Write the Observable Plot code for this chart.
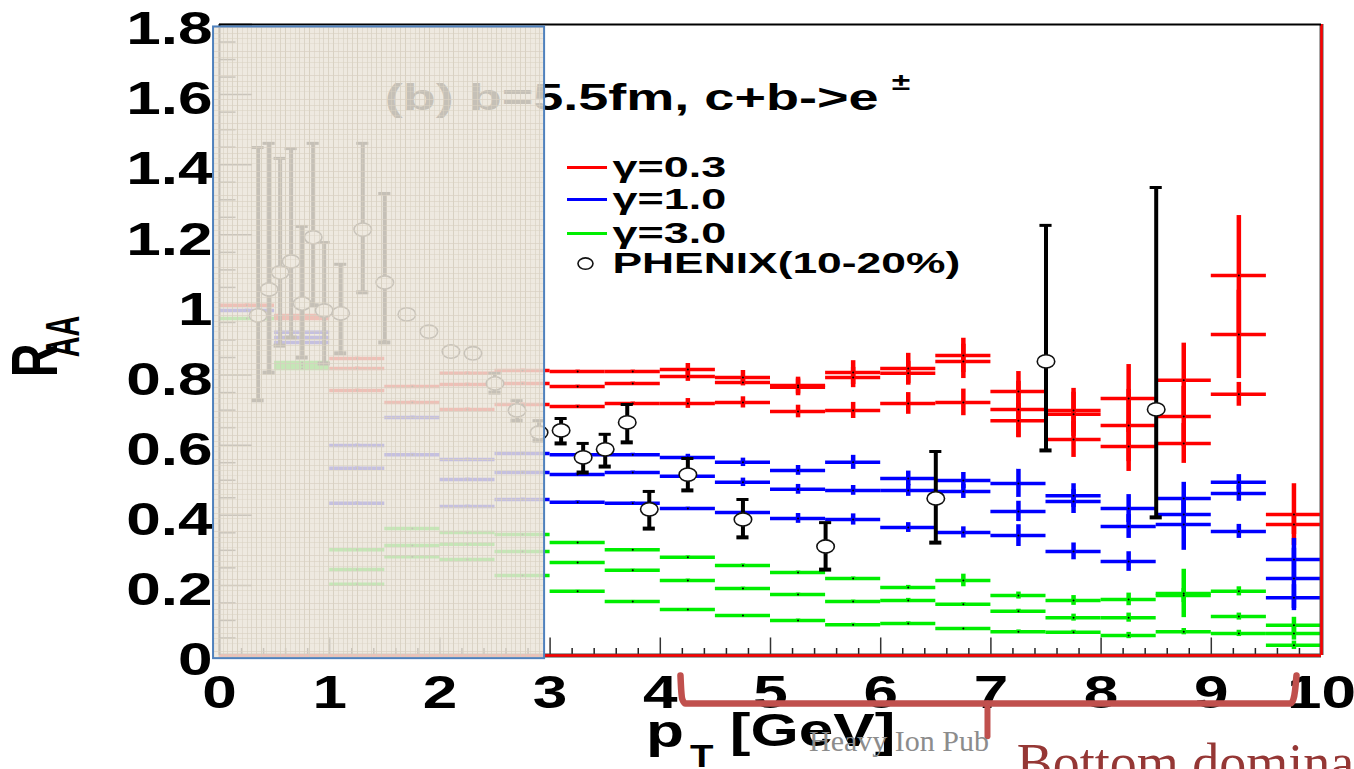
<!DOCTYPE html>
<html>
<head>
<meta charset="utf-8">
<script src="https://cdn.jsdelivr.net/npm/d3@7"></script>
<script src="https://cdn.jsdelivr.net/npm/@observablehq/plot@0.6"></script>
<style>
html,body{margin:0;padding:0;background:#fff;overflow:hidden}
svg{display:block}
</style>
</head>
<body>
<div id="chart"></div>
<script>
const binStart = [0,.5,1,1.5,2,2.5,3,3.5,4,4.5,5,5.5,6,6.5,7,7.5,8,8.5,9,9.5];

const redA = [.999,.970,.847,.767,.805,.813,.810,.810,.816,.793,.770,.807,.819,.856,.753,.699,.733,.785,1.084,.402];
const redB = [null,.967,.819,.722,.773,.776,.767,.776,.796,.779,.765,.793,.805,.839,.702,.688,.656,.682,.916,.374];
const redC = [null,.961,.756,null,.702,.716,.710,.719,.719,.722,.696,.699,.719,.722,.670,.616,.596,.605,.745,null];
const redAErr = [.004,.004,.004,.004,.004,.004,.004,.004,.017,.020,.024,.034,.043,.049,.057,.063,.097,.106,.171,.088];
const redBErr = [0,.004,.004,.004,.004,.004,.004,.004,.014,.010,.024,.029,.034,.049,.080,.063,.103,.086,.126,.029];
const redCErr = [0,.004,.004,0,.004,.004,.004,.004,.014,.016,.018,.023,.031,.038,.049,.051,.071,.057,.034,0];

const blueA = [.984,.922,.599,.679,.559,.576,.573,.573,.565,.551,.528,.551,.505,.499,.491,.456,.419,.448,.494,.274];
const blueB = [null,.907,.534,.573,.502,.522,.516,.522,.511,.494,.474,.471,.471,.468,.411,.439,.368,.402,.462,.220];
const blueC = [null,.893,.434,null,.425,.445,.437,.434,.419,.408,.391,.388,.365,.351,.342,.297,.268,.374,.354,.165];
const blueAErr = [.004,.004,.004,.004,.004,.004,.004,.004,.009,.012,.014,.020,.021,.023,.040,.034,.040,.046,.022,.060];
const blueBErr = [0,.004,.004,.004,.004,.004,.004,.004,.009,.012,.014,.014,.017,.020,.029,.034,.034,.040,.022,.086];
const blueCErr = [0,.004,.004,0,.004,.004,.004,.004,.004,.004,.014,.016,.014,.016,.031,.024,.028,.074,.020,.037];

const greenA = [.961,.836,.302,.362,.351,.345,.322,.302,.280,.257,.237,.220,.194,.214,.171,.157,.160,.177,.183,.086];
const greenB = [null,.827,.245,.314,.317,.297,.265,.243,.214,.191,.174,.154,.157,.146,.126,.108,.108,.171,.111,.063];
const greenC = [null,.819,.203,.282,.274,.228,.183,.154,.131,.114,.100,.088,.091,.077,.068,.066,.057,.068,.063,.029];
const greenAErr = [.003,.003,.003,.003,.003,.003,.003,.003,.004,.004,.004,.004,.006,.018,.010,.014,.018,.069,.013,.023];
const greenBErr = [0,.003,.003,.003,.003,.003,.003,.003,.004,.004,.004,.004,.006,.004,.006,.010,.013,.020,.010,.019];
const greenCErr = [0,.003,.003,.003,.003,.003,.003,.003,.003,.003,.004,.004,.005,.003,.005,.006,.009,.009,.009,.012];

const phenixX = [.35,.45,.55,.65,.75,.85,.95,1.1,1.3,1.5,1.7,1.9,2.1,2.3,2.5,2.7,2.9,3.1,3.3,3.5,3.7,3.9,4.25,4.75,5.5,6.5,7.5,8.5];
const phenixY = [.970,1.044,1.093,1.124,1.004,1.193,.984,.976,1.215,1.064,.973,.924,.867,.862,.776,.699,.636,.642,.565,.588,.665,.417,.516,.388,.311,.448,.839,.702];
const phenixHi = [1.449,1.461,1.418,1.446,1.224,1.461,1.178,1.116,1.461,1.318,.973,.924,.867,.862,.805,.727,.670,.676,.605,.631,.716,.468,.562,.445,.379,.582,1.227,1.335];
const phenixLo = [.728,.807,.884,.907,.850,.999,.833,.862,1.036,.893,.973,.924,.867,.862,.750,.670,.613,.605,.522,.539,.608,.362,.471,.337,.245,.322,.585,.394];

const xTicks = [0,1,2,3,4,5,6,7,8,9,10];
const yTicks = [0,.2,.4,.6,.8,1,1.2,1.4,1.6,1.8];
const xMinor = d3.range(0,50).map(i => i/5).filter(v => !Number.isInteger(v));
const yMinor = d3.range(0,36).map(i => i/20).filter(v => Math.abs(v*5-Math.round(v*5)) > 1e-6);

const legendNames = ["γ=0.3","γ=1.0","γ=3.0"];
const legendColors = ["#ff0000","#0000ff","#00ee00"];
const legendY = [1.392,1.301,1.204];

const braceX = [4.183,4.19,4.20,4.229,6.969,9.719,9.745,9.76,9.773];
const braceY = [-.057,-.10,-.125,-.137,-.137,-.137,-.125,-.10,-.057];
const spikeX = [6.969,6.969];
const spikeY = [-.137,-.23];

function seriesRows(vals, errs) {
  return vals.flatMap((a, i) => a.map((v, j) => v == null ? null : {x: binStart[j], v, e: errs[i][j]})).filter(Boolean);
}
function seriesMarks(rows, color) {
  return [
    Plot.ruleX(rows, {x: d => d.x + .25, y1: d => d.v - d.e, y2: d => d.v + d.e, stroke: color, strokeWidth: 4.5}),
    Plot.ruleY(rows, {y: "v", x1: "x", x2: d => d.x + .5, stroke: color, strokeWidth: 3.5}),
    Plot.dot(rows, {x: d => d.x + .25, y: "v", r: 1, fill: "#000"})
  ];
}
const red = seriesRows([redA,redB,redC],[redAErr,redBErr,redCErr]);
const blue = seriesRows([blueA,blueB,blueC],[blueAErr,blueBErr,blueCErr]);
const green = seriesRows([greenA,greenB,greenC],[greenAErr,greenBErr,greenCErr]);
const phenix = phenixX.map((x,i) => ({x, y: phenixY[i], hi: phenixHi[i], lo: phenixLo[i]}));
const barred = phenix.filter(d => d.hi > d.lo);

const oval = {draw(ctx, size) {
  const r = Math.sqrt(size/Math.PI), rx = r*1.25, ry = r*.95, k = .5523;
  ctx.moveTo(-rx,0);
  ctx.bezierCurveTo(-rx,-k*ry,-k*rx,-ry,0,-ry);
  ctx.bezierCurveTo(k*rx,-ry,rx,-k*ry,rx,0);
  ctx.bezierCurveTo(rx,k*ry,k*rx,ry,0,ry);
  ctx.bezierCurveTo(-k*rx,ry,-rx,k*ry,-rx,0);
  ctx.closePath();
}};

const SANS = "Liberation Sans";
const SERIF = "Liberation Serif";
const chart = Plot.plot({
  width: 1354, height: 769,
  marginLeft: 219, marginRight: 33, marginTop: 24, marginBottom: 114,
  x: {domain: [0,10]},
  y: {domain: [0,1.8]},
  style: {background: "#fff", overflow: "hidden"},
  marks: [
    Plot.axisX({ticks: xTicks, tickSize: 0, tickPadding: 20, label: null, fontSize: 46, fontWeight: "bold", fontFamily: SANS, fill: "#000", tickFormat: d => String(d)}),
    Plot.axisY({ticks: yTicks, tickSize: 0, tickPadding: 7, dy: 5, label: null, fontSize: 46, fontWeight: "bold", fontFamily: SANS, fill: "#000", tickFormat: d => String(d)}),
    Plot.ruleX(xMinor, {x: d => d, y1: 0, y2: .02, stroke: "#222", strokeWidth: 1.5}),
    Plot.ruleX(xTicks, {x: d => d, y1: 0, y2: .05, stroke: "#333", strokeWidth: 1.5}),
    Plot.ruleY(yMinor, {y: d => d, x1: 0, x2: .15, stroke: "#222", strokeWidth: 1.5}),
    Plot.ruleY(yTicks, {y: d => d, x1: 0, x2: .3, stroke: "#222", strokeWidth: 1.5}),
    ...seriesMarks(red, "#ff0000"),
    ...seriesMarks(blue, "#0000ff"),
    ...seriesMarks(green, "#00ee00"),
    Plot.ruleY([0], {stroke: "#444", strokeWidth: 4}),
    Plot.ruleY([0], {stroke: "#ff0000", strokeWidth: 2.5}),
    Plot.ruleX([10], {stroke: "#555", strokeWidth: 4}),
    Plot.ruleX([10], {stroke: "#ff0000", strokeWidth: 2.5}),
    Plot.ruleY([1.8], {stroke: "#000", strokeWidth: 2}),
    Plot.ruleX([0], {stroke: "#000", strokeWidth: 2}),
    Plot.ruleX(barred, {x: "x", y1: "lo", y2: "hi", stroke: "#000", strokeWidth: 4}),
    Plot.ruleY(barred, {y: "hi", x1: d => d.x - .055, x2: d => d.x + .055, stroke: "#000", strokeWidth: 3}),
    Plot.ruleY(barred, {y: "lo", x1: d => d.x - .055, x2: d => d.x + .055, stroke: "#000", strokeWidth: 4}),
    Plot.dot(phenix, {x: "x", y: "y", r: 7, symbol: oval, fill: "#fff", stroke: "#111", strokeWidth: 1.6}),
    Plot.text(["(b) b=5.5fm, c+b->e"], {x: [1.5], y: [1.59], text: d => d, textAnchor: "start", fontSize: 36, fontWeight: "bold", fontFamily: SANS, fill: "#000"}),
    Plot.text(["±"], {x: [6.1], y: [1.635], text: d => d, textAnchor: "start", fontSize: 24, fontWeight: "bold", fontFamily: SANS, fill: "#000"}),
    Plot.rect([0], {x1: [-.054], x2: [2.95], y1: [-.009], y2: [1.793], fill: "url(#parchment)", stroke: "#4f81bd", strokeWidth: 2}),
    Plot.ruleY(legendY, {y: d => d, x1: 3.158, x2: 3.521, stroke: (d,i) => legendColors[i], strokeWidth: 3}),
    Plot.text(legendNames, {x: 3.566, y: legendY, text: d => d, textAnchor: "start", fontSize: 29, fontWeight: "bold", fontFamily: SANS, fill: "#000"}),
    Plot.dot([1.118], {x: 3.321, y: d => d, r: 6, symbol: oval, fill: "#fff", stroke: "#111", strokeWidth: 1.6}),
    Plot.text(["PHENIX(10-20%)"], {x: 3.566, y: [1.118], text: d => d, textAnchor: "start", fontSize: 29, fontWeight: "bold", fontFamily: SANS, fill: "#000"}),
    Plot.text(["R"], {x: [-1.66], y: [.842], text: d => d, rotate: -90, fontSize: 65, fontWeight: "bold", fontFamily: SANS, fill: "#000"}),
    Plot.text(["AA"], {x: [-1.41], y: [.91], text: d => d, rotate: -90, fontSize: 48, fontWeight: "bold", fontFamily: SANS, fill: "#000"}),
    Plot.text(["p"], {x: [3.87], y: [-.22], text: d => d, textAnchor: "start", fontSize: 46, fontWeight: "bold", fontFamily: SANS, fill: "#000"}),
    Plot.text(["T"], {x: [4.27], y: [-.29], text: d => d, textAnchor: "start", fontSize: 32, fontWeight: "bold", fontFamily: SANS, fill: "#000"}),
    Plot.text(["[GeV]"], {x: [4.63], y: [-.215], text: d => d, textAnchor: "start", fontSize: 46, fontWeight: "bold", fontFamily: SANS, fill: "#000"}),
    Plot.line(braceX.map((x,i) => [x, braceY[i]]), {x: d => d[0], y: d => d[1], curve: "monotone-x", stroke: "#c0504d", strokeWidth: 6.5, strokeLinecap: "round", strokeLinejoin: "round"}),
    Plot.line(spikeX.map((x,i) => [x, spikeY[i]]), {x: d => d[0], y: d => d[1], stroke: "#c0504d", strokeWidth: 6, strokeLinecap: "round"}),
    Plot.text(["Heavy Ion Pub"], {x: [5.35], y: [-.245], text: d => d, textAnchor: "start", fontSize: 30, fontFamily: SERIF, fill: "#8c8c8c"}),
    Plot.text(["Bottom dominates"], {x: [7.235], y: [-.31], text: d => d, textAnchor: "start", fontSize: 54, fontFamily: SERIF, fill: "#953735"})
  ]
});
document.getElementById("chart").appendChild(chart);

// parchment texture for the pasted panel that hides the left of the plot
const NS = "http://www.w3.org/2000/svg";
const defs = document.createElementNS(NS, "defs");
const pat = document.createElementNS(NS, "pattern");
pat.setAttribute("id", "parchment");
pat.setAttribute("patternUnits", "userSpaceOnUse");
pat.setAttribute("width", 24); pat.setAttribute("height", 24);
let inner = '<rect width="24" height="24" fill="#ebe5da" fill-opacity=".84"/>';
[2,7,11,16,21].forEach((p,i) => {
  inner += `<rect x="${p}" y="0" width="1" height="24" fill="#d5cdbd" fill-opacity="${.45+.1*i}"/>`;
});
[3,9,14,19].forEach((p,i) => {
  inner += `<rect x="0" y="${p}" width="24" height="1" fill="#d9d1c2" fill-opacity="${.7-.1*i}"/>`;
});
pat.innerHTML = inner;
defs.appendChild(pat);
chart.insertBefore(defs, chart.firstChild);

// the source image was widened: stretch glyphs along the reading direction
const stretch = {"R": .72, "AA": .6, "(b) b=5.5fm, c+b->e": 1.5, "±": 1.4, "γ=0.3": 1.55, "γ=1.0": 1.55, "γ=3.0": 1.55, "PHENIX(10-20%)": 1.53, "p": 1.35, "T": 1.2, "[GeV]": 1.35};
chart.querySelectorAll("text").forEach(t => {
  if (getComputedStyle(t).fontFamily.includes("Serif")) return;
  const f = stretch[t.textContent] ?? 1.35;
  t.setAttribute("lengthAdjust", "spacingAndGlyphs");
  t.setAttribute("textLength", t.getComputedTextLength() * f);
});
</script>
</body>
</html>
